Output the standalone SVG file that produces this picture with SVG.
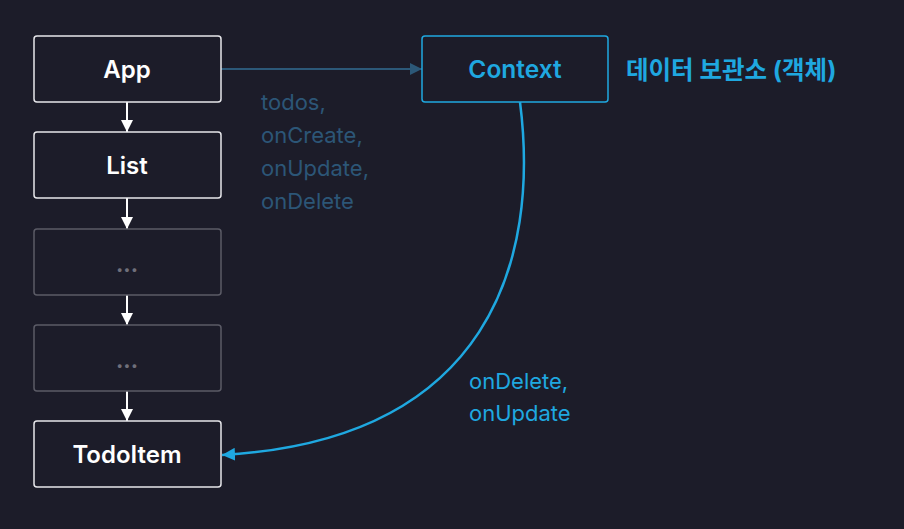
<svg xmlns="http://www.w3.org/2000/svg" width="904" height="529" viewBox="0 0 904 529">
<style>
.bg{fill:#1c1c29}
.box{fill:#1c1c29;stroke:#e6e6ea;stroke-width:1.5}
.gbox{fill:#1c1c29;stroke:#5b5b66;stroke-width:1.5}
.cbox{fill:#1c1c29;stroke:#1fa8e0;stroke-width:1.5}
.t{font-family:Inter,"Noto Sans",sans-serif;font-size:24px;font-weight:600;fill:#ffffff;text-anchor:middle}
.ct{font-family:Inter,"Noto Sans",sans-serif;font-size:24.5px;font-weight:600;fill:#1fa8e0;text-anchor:middle}
.dots{font-family:Inter,"Noto Sans",sans-serif;font-size:22px;font-weight:700;fill:#6f6f7a;text-anchor:middle}
.kr{font-family:Inter,"Noto Sans CJK KR",sans-serif;font-size:24.5px;font-weight:700;fill:#1fa8e0}
.lbl{font-family:Inter,"Noto Sans",sans-serif;font-size:22px;fill:#2c5677}
.lbl2{font-family:Inter,"Noto Sans",sans-serif;font-size:22px;fill:#1fa8e0}
.w{stroke:#ffffff;stroke-width:2;fill:none}
</style>
<defs>
<marker id="aw" viewBox="0 0 12 12" refX="12" refY="6" markerWidth="12" markerHeight="13" markerUnits="userSpaceOnUse" orient="auto"><path d="M0,0 L12,6 L0,12 Z" fill="#ffffff"/></marker>
<marker id="ad" viewBox="0 0 12 12" refX="12" refY="6" markerWidth="12" markerHeight="12" markerUnits="userSpaceOnUse" orient="auto"><path d="M0,0 L12,6 L0,12 Z" fill="#2c5878"/></marker>
<marker id="ab" viewBox="0 0 12 12" refX="12" refY="6" markerWidth="13" markerHeight="13" markerUnits="userSpaceOnUse" orient="auto"><path d="M0,0 L12,6 L0,12 Z" fill="#1fa8e0"/></marker>
</defs>
<rect class="bg" x="0" y="0" width="904" height="529"/>
<g id="connectors">
<line class="w" x1="127" y1="102" x2="127" y2="132" marker-end="url(#aw)"/>
<line class="w" x1="127" y1="198" x2="127" y2="229" marker-end="url(#aw)"/>
<line class="w" x1="127" y1="295" x2="127" y2="325" marker-end="url(#aw)"/>
<line class="w" x1="127" y1="391" x2="127" y2="421" marker-end="url(#aw)"/>
<line x1="221" y1="69" x2="422" y2="69" stroke="#2c5878" stroke-width="2" marker-end="url(#ad)"/>
<path d="M520,102 C540,260 490,440 222,455" fill="none" stroke="#1fa8e0" stroke-width="2.5" marker-end="url(#ab)"/>
<text class="lbl" x="261" y="110">todos,</text>
<text class="lbl" x="261" y="143">onCreate,</text>
<text class="lbl" x="261" y="176">onUpdate,</text>
<text class="lbl" x="261" y="209">onDelete</text>
<text class="lbl2" x="469" y="389">onDelete,</text>
<text class="lbl2" x="469" y="421">onUpdate</text>
</g>
<g id="app"><rect class="box" x="34" y="36" width="187" height="66" rx="3"/><text class="t" x="127" y="78">App</text></g>
<g id="list"><rect class="box" x="34" y="132" width="187" height="66" rx="3"/><text class="t" x="127" y="174">List</text></g>
<g id="dots1"><rect class="gbox" x="34" y="229" width="187" height="66" rx="3"/><text class="dots" x="127" y="272">...</text></g>
<g id="dots2"><rect class="gbox" x="34" y="325" width="187" height="66" rx="3"/><text class="dots" x="127" y="368">...</text></g>
<g id="todoitem"><rect class="box" x="34" y="421" width="187" height="66" rx="3"/><text class="t" x="127" y="463">TodoItem</text></g>
<g id="context"><rect class="cbox" x="422" y="36" width="186" height="66" rx="3"/><text class="ct" x="515" y="78">Context</text></g>
<g id="context-label"><text class="kr" x="626" y="79">데이터 보관소 (객체)</text></g>
</svg>
